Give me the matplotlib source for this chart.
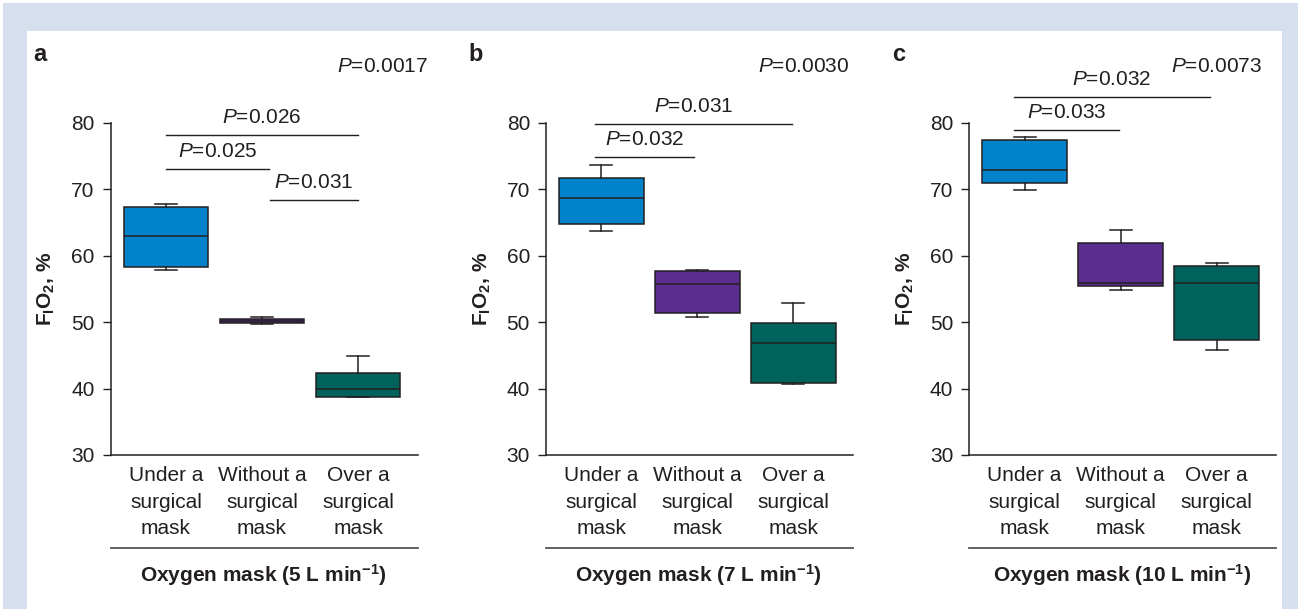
import matplotlib
matplotlib.use("Agg")
import matplotlib.pyplot as plt
from matplotlib.patches import Rectangle
from matplotlib.lines import Line2D

plt.rcParams['font.family'] = ['Liberation Sans', 'DejaVu Sans']
plt.rcParams['mathtext.fontset'] = 'custom'
plt.rcParams['mathtext.rm'] = 'Liberation Sans'
plt.rcParams['mathtext.it'] = 'Liberation Sans:italic'
plt.rcParams['mathtext.bf'] = 'Liberation Sans:bold'

# ---------------- data ----------------
categories = ["Under a\nsurgical\nmask", "Without a\nsurgical\nmask", "Over a\nsurgical\nmask"]
panel_letters = ["a", "b", "c"]
flow_titles = [r"Oxygen mask (5 L min$^{\mathbf{-1}}$)",
               r"Oxygen mask (7 L min$^{\mathbf{-1}}$)",
               r"Oxygen mask (10 L min$^{\mathbf{-1}}$)"]
overall_p = [r"$P$=0.0017", r"$P$=0.0030", r"$P$=0.0073"]

# box statistics per panel: [Under, Without, Over]
whislo_5 = [57.9, 49.7, 38.8]
q1_5 = [58.3, 49.8, 38.8]
med_5 = [62.9, 50.1, 39.9]
q3_5 = [67.3, 50.4, 42.3]
whishi_5 = [67.8, 50.8, 44.9]

whislo_7 = [63.7, 50.8, 40.7]
q1_7 = [64.75, 51.4, 40.8]
med_7 = [68.7, 55.7, 46.9]
q3_7 = [71.7, 57.7, 49.9]
whishi_7 = [73.6, 57.9, 52.8]

whislo_10 = [69.9, 54.9, 45.8]
q1_10 = [70.9, 55.5, 47.35]
med_10 = [72.9, 55.9, 55.9]
q3_10 = [77.4, 61.9, 58.4]
whishi_10 = [77.9, 63.8, 58.9]

# pairwise comparisons: (x start, x end, line height, label)
pairs_5 = [(0.0, 2.0, 78.1, r"$P$=0.026"),
           (0.0, 1.07, 73.05, r"$P$=0.025"),
           (1.08, 2.0, 68.3, r"$P$=0.031")]
pairs_7 = [(-0.07, 1.99, 79.8, r"$P$=0.031"),
           (-0.06, 0.97, 74.8, r"$P$=0.032")]
pairs_10 = [(-0.11, 1.93, 83.9, r"$P$=0.032"),
            (-0.11, 0.98, 78.95, r"$P$=0.033")]

yticks = [30, 40, 50, 60, 70, 80]
colors = ["#0083CA", "#5B2D90", "#00625B"]

panels = [
    (whislo_5, q1_5, med_5, q3_5, whishi_5, pairs_5),
    (whislo_7, q1_7, med_7, q3_7, whishi_7, pairs_7),
    (whislo_10, q1_10, med_10, q3_10, whishi_10, pairs_10),
]

# ---------------- layout ----------------
W, H = 1298, 609
fig = plt.figure(figsize=(W / 100, H / 100), dpi=100, facecolor="white")
ink = "#231F20"
bg_blue = "#D6DFEE"

def fx(x):
    return x / W

def fy(y):
    return 1 - y / H

# background frame
fig.patches.append(Rectangle((fx(3), 0), fx(W - 3), fy(3), transform=fig.transFigure,
                             facecolor=bg_blue, edgecolor="none", zorder=-10))
fig.patches.append(Rectangle((fx(27), 0), fx(1281.5 - 27), fy(31), transform=fig.transFigure,
                             facecolor="white", edgecolor="none", zorder=-9))

axis_left = [110.7, 546.0, 969.3]
axis_width = 307.0
axis_top, axis_bottom = 122.7, 455.0
overall_p_right = [428, 849, 1261.7]

for i, (wlo, q1, med, q3, whi, pairs) in enumerate(panels):
    L = axis_left[i]
    ax = fig.add_axes([fx(L), fy(axis_bottom), fx(axis_width), (axis_bottom - axis_top) / H])
    ax.set_facecolor("none")
    stats = [dict(whislo=wlo[k], q1=q1[k], med=med[k], q3=q3[k], whishi=whi[k])
             for k in range(3)]
    bp = ax.bxp(stats, positions=[0, 1, 2], widths=0.88, patch_artist=True,
                showfliers=False, capwidths=0.23,
                boxprops=dict(edgecolor=ink, linewidth=1.1),
                medianprops=dict(color=ink, linewidth=1.1),
                whiskerprops=dict(color=ink, linewidth=1.1),
                capprops=dict(color=ink, linewidth=1.1))
    for patch, c in zip(bp["boxes"], colors):
        patch.set_facecolor(c)

    ax.set_xlim(-0.575, 2.62)
    ax.set_ylim(30, 80)
    ax.set_yticks(yticks)
    ax.set_xticks([0, 1, 2])
    ax.set_xticklabels(categories, fontsize=15, color=ink, linespacing=1.5)
    ax.tick_params(axis="x", length=0, pad=8)
    ax.tick_params(axis="y", length=5.5, width=1, color=ink, pad=6, labelsize=15, labelcolor=ink)
    for s in ("top", "right"):
        ax.spines[s].set_visible(False)
    for s in ("left", "bottom"):
        ax.spines[s].set_color(ink)
        ax.spines[s].set_linewidth(1.1)

    ax.set_ylabel(r"$\mathbf{F_{I}O_{2}}$, %", fontsize=15, fontweight="bold", color=ink)
    ax.yaxis.set_label_coords(-0.174, 0.5)

    # separator line and group title
    yb = (axis_bottom - 547.6) / (axis_bottom - axis_top)
    ax.add_line(Line2D([0, 1], [yb, yb], transform=ax.transAxes, color="#555555",
                       linewidth=1.3, clip_on=False))
    yt = (axis_bottom - 575) / (axis_bottom - axis_top)
    ax.text(0.497, yt, flow_titles[i], transform=ax.transAxes, ha="center", va="center",
            fontsize=15, fontweight="bold", color=ink)

    # panel letter
    ax.text(-0.253, (axis_bottom - 54) / (axis_bottom - axis_top), panel_letters[i],
            transform=ax.transAxes, ha="left", va="center", fontsize=17,
            fontweight="bold", color=ink)
    # overall P
    ax.text((overall_p_right[i] - L) / axis_width, (axis_bottom - 66) / (axis_bottom - axis_top),
            overall_p[i], transform=ax.transAxes, ha="right", va="center",
            fontsize=15, color=ink)

    # pairwise brackets
    for (x0, x1, yv, lab) in pairs:
        ax.add_line(Line2D([x0, x1], [yv, yv], color=ink, linewidth=1.0, clip_on=False))
        ax.text((x0 + x1) / 2, yv + 2.65, lab, ha="center", va="center",
                fontsize=15, color=ink, clip_on=False)

fig.savefig("out.png", dpi=100, facecolor="white")
